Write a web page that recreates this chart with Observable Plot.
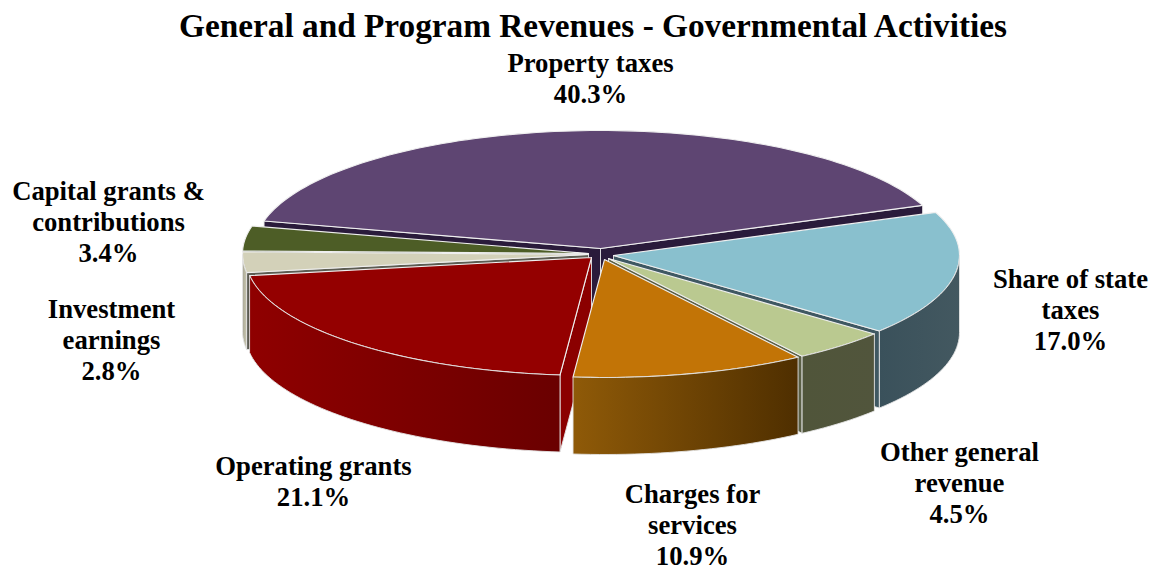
<!DOCTYPE html>
<html>
<head>
<meta charset="utf-8">
<script src="https://cdn.jsdelivr.net/npm/d3@7"></script>
<script src="https://cdn.jsdelivr.net/npm/@observablehq/plot@0.6"></script>
<style>
  html, body { margin: 0; padding: 0; background: #fff; }
  svg { display: block; }
</style>
</head>
<body>
<div id="chart"></div>
<script>
// Revenue shares, clockwise from the property-tax slice.
const categories = ["Property taxes", "Share of state taxes", "Other general revenue", "Charges for services", "Operating grants", "Investment earnings", "Capital grants & contributions"];
const shares = [40.3, 17.0, 4.5, 10.9, 21.1, 2.8, 3.4];
const labelLines = ["Property taxes", "Share of state\ntaxes", "Other general\nrevenue", "Charges for\nservices", "Operating grants", "Investment\nearnings", "Capital grants &\ncontributions"];

// Slice colours: top face, cut face, outer rim (left and right gradient stops).
const topColors = ["#5e4572", "#89c0ce", "#bac990", "#c27406", "#940000", "#d3d1b9", "#4d5d26"];
const cutColors = ["#2a1b3b", "#3f5862", "#5a5f45", "#7a4c06", "#8b0000", "#5c5c52", "#33401a"];
const rimLeft = ["#3a2b4a", "#3a515b", "#50553a", "#8f5a08", "#8f0000", "#a9a796", "#33401a"];
const rimRight = ["#3a2b4a", "#435860", "#51553c", "#4f2f00", "#6a0000", "#c9c7b0", "#33401a"];

// Pie shape: ellipse radii, rim depth, start angle in degrees clockwise from the top.
const rx = 346, ry = 118, depth = 77, startAngle = -76.5;
// Where each exploded slice has its apex.
const apexX = [600, 613, 608, 604, 591, 588, 588];
const apexY = [248, 255, 258, 259, 257, 254, 253];
// Label centres.
const labelX = [590, 1070, 959, 692, 313, 111, 108];
const labelY = [80, 311, 484, 526, 483, 341, 223];

const rad = (d) => d * Math.PI / 180;
const angles = [];
shares.reduce((a, s) => { angles.push([a, a + s * 3.6]); return a + s * 3.6; }, startAngle);

// Ellipse point for a slice at a given angle, lowered by z.
const point = (i, a, z = 0) => ({
  x: apexX[i] + rx * Math.sin(rad(a)),
  y: apexY[i] - ry * Math.cos(rad(a)) + z
});
const arc = (i, a0, a1, z = 0) => {
  const n = Math.max(2, Math.ceil(Math.abs(a1 - a0) / 1.5));
  return d3.range(n + 1).map((k) => point(i, a0 + (a1 - a0) * k / n, z));
};
const closed = (pts) => [...pts, pts[0]];
const apex = (i, z = 0) => ({x: apexX[i], y: apexY[i] + z});

const polygon = (pts, fill, stroke, strokeWidth = 1) =>
  Plot.line(closed(pts), {x: "x", y: "y", fill, stroke, strokeWidth, strokeLinejoin: "round", curve: "linear"});

// Linear gradients for the outer rims.
const gradients = () => {
  const defs = d3.create("svg:defs");
  shares.forEach((_, i) => {
    const g = defs.append("linearGradient").attr("id", `rim${i}`);
    g.append("stop").attr("offset", "0%").attr("stop-color", rimLeft[i]);
    g.append("stop").attr("offset", "100%").attr("stop-color", rimRight[i]);
  });
  return defs.node();
};

// Back slices first, so the nearer ones paint over them.
const order = [0, 6, 5, 1, 2, 4, 3];
const sliceMarks = order.flatMap((i) => {
  const [a0, a1] = angles[i];
  const marks = [];
  // A cut face shows only when it turns towards the viewer.
  const cuts = [];
  if (Math.sin(rad(a0)) < 0) cuts.push(a0);
  if (Math.sin(rad(a1)) > 0) cuts.push(a1);
  for (const a of cuts) {
    const o = point(i, a);
    marks.push(polygon([apex(i), o, {x: o.x, y: o.y + depth}, apex(i, depth)], cutColors[i], "#e4e4e4", 0.9));
  }
  marks.push(polygon([apex(i), ...arc(i, a0, a1)], topColors[i], "#efefef", 1.1));
  // Only the part of the rim on the front half of the ellipse shows.
  const r0 = Math.max(a0, 90), r1 = Math.min(a1, 270);
  if (r1 > r0) {
    marks.push(polygon([...arc(i, r0, r1), ...arc(i, r1, r0, depth)], `url(#rim${i})`, "#e4e4e4", 0.9));
  }
  return marks;
});

const labels = shares.map((s, i) => ({
  category: categories[i],
  text: `${labelLines[i]}\n${s.toFixed(1)}%`,
  x: labelX[i],
  y: labelY[i] - 2.5
}));

const chart = Plot.plot({
  width: 1150,
  height: 568,
  margin: 0,
  style: {background: "#fff"},
  x: {domain: [0, 1150], range: [0, 1150], axis: null},
  y: {domain: [0, 568], range: [0, 568], axis: null},
  marks: [
    gradients,
    ...sliceMarks,
    Plot.text(["General and Program Revenues - Governmental Activities"], {
      text: (d) => d, x: () => 592.5, y: () => 26,
      fontFamily: "Liberation Serif", fontWeight: "bold", fontSize: 33.3, fill: "#000"
    }),
    Plot.text(labels, {
      x: "x", y: "y", text: "text", lineHeight: 1.16, lineAnchor: "middle",
      fontFamily: "Liberation Serif", fontWeight: "bold", fontSize: 26.7, fill: "#000"
    })
  ]
});
document.getElementById("chart").append(chart);
</script>
</body>
</html>
